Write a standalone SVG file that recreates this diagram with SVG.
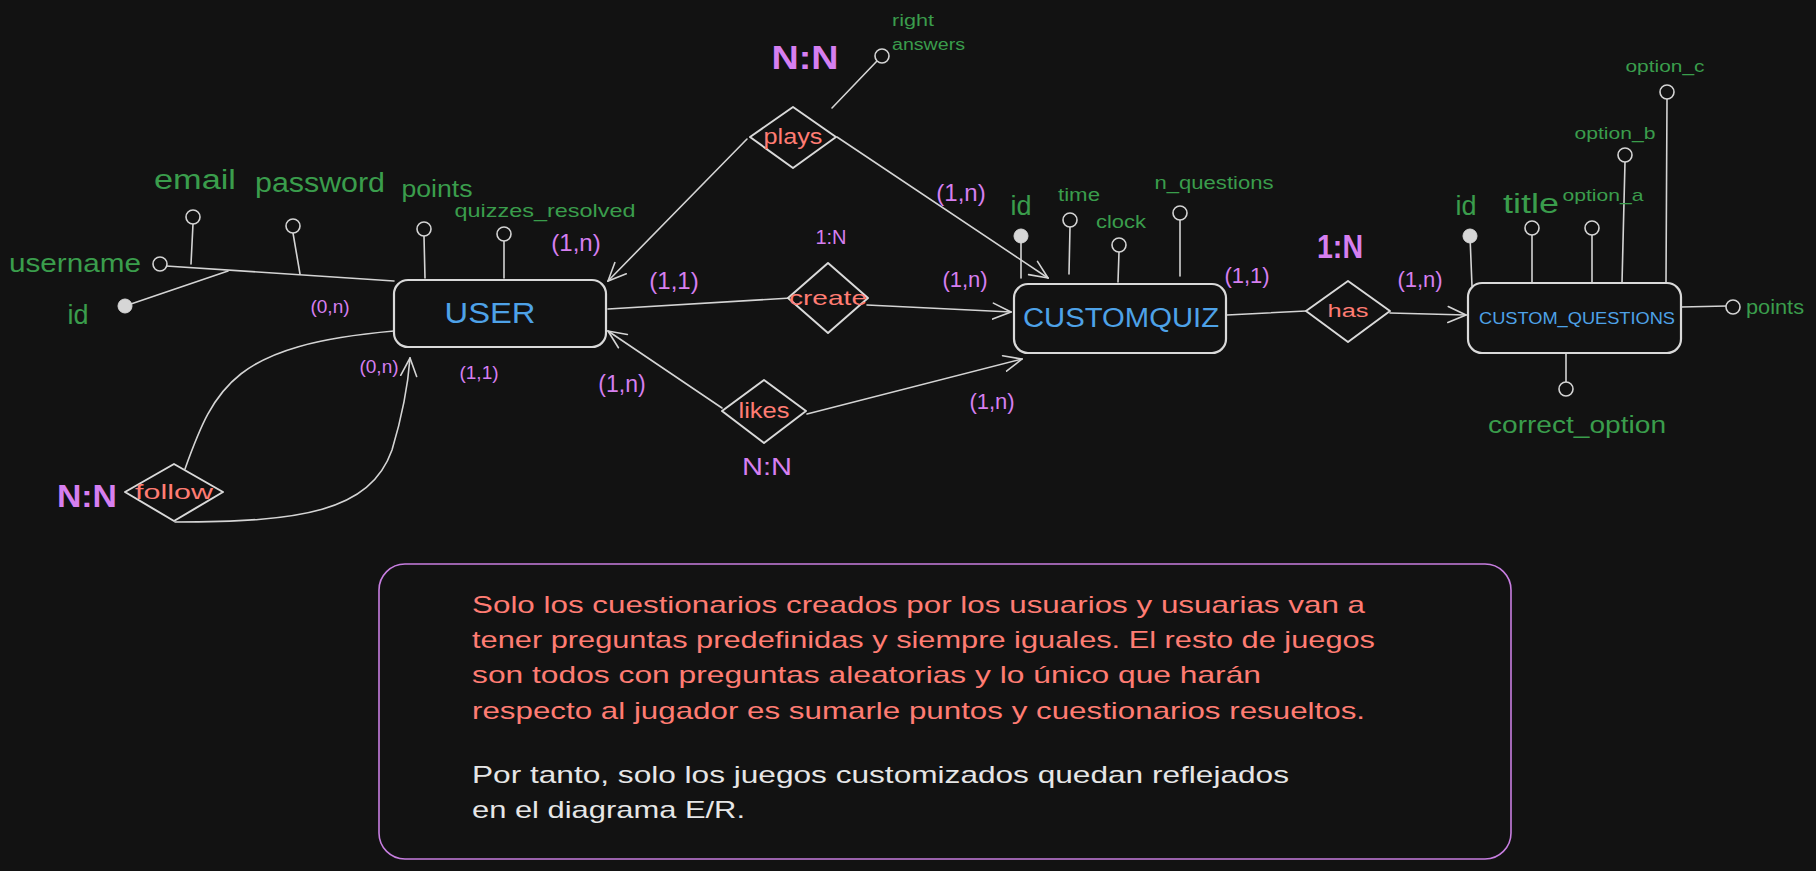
<svg xmlns="http://www.w3.org/2000/svg" width="1816" height="871" viewBox="0 0 1816 871">
<defs>
<style>
text{font-family:"Liberation Sans",Arial,sans-serif}
.ln{stroke:#d4d4d4;stroke-width:1.6;fill:none;stroke-linecap:round}
.bx{stroke:#d9d9d9;stroke-width:2.2;fill:#121212}
.dm{stroke:#d9d9d9;stroke-width:2;fill:#121212;stroke-linejoin:round}
.oc{stroke:#d4d4d4;stroke-width:1.6;fill:#121212}
.fc{fill:#d6d6d6;stroke:#d6d6d6}
.g{fill:#3a9d4c}
.p{fill:#d67ff0}
.r{fill:#ff7c73}
.b{fill:#4ea2e8}
.m{text-anchor:middle}
</style>
<marker id="arr" viewBox="0 0 20 20" refX="19" refY="10" markerWidth="20" markerHeight="20" markerUnits="userSpaceOnUse" orient="auto">
<path d="M1,2 L19,10 L1,18" fill="none" stroke="#d4d4d4" stroke-width="1.6" stroke-linecap="round"/>
</marker>
</defs>
<rect width="1816" height="871" fill="#121212"/>

<g id="connectors">
<path class="ln" d="M166,266 L394,281"/>
<path class="ln" d="M125,306 L228,271"/>
<path class="ln" d="M193,224 L191,264"/>
<path class="ln" d="M293,233 L300,274"/>
<path class="ln" d="M424,236 L425,278"/>
<path class="ln" d="M504,241 L504,278"/>
<path class="ln" d="M185,469 C215,385 235,345 394,331"/>
<path class="ln" d="M175,522 C300,522 370,512 392,450 C404,410 408,385 410,358" marker-end="url(#arr)"/>
<path class="ln" d="M747,139 L608,281" marker-end="url(#arr)"/>
<path class="ln" d="M837,137 L1048,278" marker-end="url(#arr)"/>
<path class="ln" d="M832,108 L877,61"/>
<path class="ln" d="M608,309 L791,298"/>
<path class="ln" d="M867,305 L1011,312" marker-end="url(#arr)"/>
<path class="ln" d="M722,408 L608,331" marker-end="url(#arr)"/>
<path class="ln" d="M807,414 L1022,359" marker-end="url(#arr)"/>
<path class="ln" d="M1227,315 L1306,311"/>
<path class="ln" d="M1390,313 L1466,315" marker-end="url(#arr)"/>
<path class="ln" d="M1021,236 L1021,278"/>
<path class="ln" d="M1070,227 L1069,274"/>
<path class="ln" d="M1119,252 L1118,282"/>
<path class="ln" d="M1180,220 L1180,276"/>
<path class="ln" d="M1470,236 L1472,286"/>
<path class="ln" d="M1532,235 L1532,283"/>
<path class="ln" d="M1592,235 L1592,283"/>
<path class="ln" d="M1625,162 L1622,283"/>
<path class="ln" d="M1667,99 L1666,283"/>
<path class="ln" d="M1681,307 L1727,306"/>
<path class="ln" d="M1566,353 L1566,382"/>
</g>

<g id="user">
<rect class="bx" x="394" y="280" width="212" height="67" rx="14"/>
<text class="b m" x="490" y="323" font-size="29" textLength="91" lengthAdjust="spacingAndGlyphs">USER</text>
</g>
<g id="customquiz">
<rect class="bx" x="1014" y="284" width="212" height="69" rx="14"/>
<text class="b m" x="1121" y="327" font-size="27" textLength="196" lengthAdjust="spacingAndGlyphs">CUSTOMQUIZ</text>
</g>
<g id="custom_questions">
<rect class="bx" x="1468" y="283" width="213" height="70" rx="14"/>
<text class="b m" x="1577" y="324" font-size="17" textLength="196" lengthAdjust="spacingAndGlyphs">CUSTOM_QUESTIONS</text>
</g>

<g id="follow">
<polygon class="dm" points="125,492 174,464 223,492 174,521"/>
<text class="r m" x="174" y="499" font-size="21" textLength="78" lengthAdjust="spacingAndGlyphs">follow</text>
</g>
<g id="plays">
<polygon class="dm" points="750,137 793,107 836,137 793,168"/>
<text class="r m" x="793" y="144" font-size="22" textLength="59" lengthAdjust="spacingAndGlyphs">plays</text>
</g>
<g id="create">
<polygon class="dm" points="788,298 828,263 868,298 828,333"/>
<text class="r m" x="828" y="305" font-size="21" textLength="78" lengthAdjust="spacingAndGlyphs">create</text>
</g>
<g id="likes">
<polygon class="dm" points="722,411 764,380 806,411 764,443"/>
<text class="r m" x="764" y="418" font-size="22" textLength="51" lengthAdjust="spacingAndGlyphs">likes</text>
</g>
<g id="has">
<polygon class="dm" points="1306,311 1348,281 1390,311 1348,342"/>
<text class="r m" x="1348" y="317" font-size="18" textLength="41" lengthAdjust="spacingAndGlyphs">has</text>
</g>

<g id="user-attributes">
<circle class="oc" cx="193" cy="217" r="7"/>
<text class="g m" x="195" y="189" font-size="27" textLength="82" lengthAdjust="spacingAndGlyphs">email</text>
<circle class="oc" cx="293" cy="226" r="7"/>
<text class="g m" x="320" y="192" font-size="27" textLength="130" lengthAdjust="spacingAndGlyphs">password</text>
<circle class="oc" cx="424" cy="229" r="7"/>
<text class="g m" x="437" y="197" font-size="23" textLength="71" lengthAdjust="spacingAndGlyphs">points</text>
<circle class="oc" cx="504" cy="234" r="7"/>
<text class="g m" x="545" y="217" font-size="19" textLength="181" lengthAdjust="spacingAndGlyphs">quizzes_resolved</text>
<circle class="oc" cx="160" cy="264" r="7"/>
<text class="g m" x="75" y="272" font-size="25" textLength="132" lengthAdjust="spacingAndGlyphs">username</text>
<circle class="fc" cx="125" cy="306" r="7"/>
<text class="g m" x="78" y="324" font-size="27">id</text>
</g>

<g id="plays-attribute">
<circle class="oc" cx="882" cy="56" r="7"/>
<text class="g" x="892" y="26" font-size="16" textLength="42" lengthAdjust="spacingAndGlyphs">right</text>
<text class="g" x="892" y="50" font-size="16" textLength="73" lengthAdjust="spacingAndGlyphs">answers</text>
</g>

<g id="customquiz-attributes">
<circle class="fc" cx="1021" cy="236" r="7"/>
<text class="g m" x="1021" y="215" font-size="27">id</text>
<circle class="oc" cx="1070" cy="220" r="7"/>
<text class="g m" x="1079" y="201" font-size="18" textLength="42" lengthAdjust="spacingAndGlyphs">time</text>
<circle class="oc" cx="1119" cy="245" r="7"/>
<text class="g m" x="1121" y="228" font-size="18" textLength="50" lengthAdjust="spacingAndGlyphs">clock</text>
<circle class="oc" cx="1180" cy="213" r="7"/>
<text class="g m" x="1214" y="189" font-size="18" textLength="119" lengthAdjust="spacingAndGlyphs">n_questions</text>
</g>

<g id="custom_questions-attributes">
<circle class="fc" cx="1470" cy="236" r="7"/>
<text class="g m" x="1466" y="215" font-size="27">id</text>
<circle class="oc" cx="1532" cy="228" r="7"/>
<text class="g m" x="1531" y="213" font-size="27" textLength="56" lengthAdjust="spacingAndGlyphs">title</text>
<circle class="oc" cx="1592" cy="228" r="7"/>
<text class="g m" x="1603" y="201" font-size="17" textLength="81" lengthAdjust="spacingAndGlyphs">option_a</text>
<circle class="oc" cx="1625" cy="155" r="7"/>
<text class="g m" x="1615" y="139" font-size="17" textLength="81" lengthAdjust="spacingAndGlyphs">option_b</text>
<circle class="oc" cx="1667" cy="92" r="7"/>
<text class="g m" x="1665" y="72" font-size="17" textLength="79" lengthAdjust="spacingAndGlyphs">option_c</text>
<circle class="oc" cx="1733" cy="307" r="7"/>
<text class="g" x="1746" y="314" font-size="20" textLength="58" lengthAdjust="spacingAndGlyphs">points</text>
<circle class="oc" cx="1566" cy="389" r="7"/>
<text class="g m" x="1577" y="433" font-size="23" textLength="178" lengthAdjust="spacingAndGlyphs">correct_option</text>
</g>

<g id="cardinalities">
<text class="p m" x="576" y="251" font-size="24">(1,n)</text>
<text class="p m" x="674" y="289" font-size="24">(1,1)</text>
<text class="p m" x="330" y="313" font-size="19">(0,n)</text>
<text class="p m" x="379" y="373" font-size="19">(0,n)</text>
<text class="p m" x="479" y="379" font-size="19">(1,1)</text>
<text class="p m" x="622" y="392" font-size="23">(1,n)</text>
<text class="p m" x="87" y="507" font-size="31" font-weight="bold" textLength="60" lengthAdjust="spacingAndGlyphs">N:N</text>
<text class="p m" x="805" y="69" font-size="33" font-weight="bold" textLength="67" lengthAdjust="spacingAndGlyphs">N:N</text>
<text class="p m" x="831" y="244" font-size="20">1:N</text>
<text class="p m" x="767" y="475" font-size="23" textLength="50" lengthAdjust="spacingAndGlyphs">N:N</text>
<text class="p m" x="961" y="201" font-size="24">(1,n)</text>
<text class="p m" x="965" y="287" font-size="22">(1,n)</text>
<text class="p m" x="992" y="409" font-size="22">(1,n)</text>
<text class="p m" x="1247" y="283" font-size="22">(1,1)</text>
<text class="p m" x="1340" y="258" font-size="33" font-weight="bold" textLength="46" lengthAdjust="spacingAndGlyphs">1:N</text>
<text class="p m" x="1420" y="287" font-size="22">(1,n)</text>
</g>

<g id="note">
<rect x="379" y="564" width="1132" height="295" rx="26" fill="#121212" stroke="#c77ee0" stroke-width="1.6"/>
<text x="472" y="613" font-size="24" fill="#ff7c73" textLength="893" lengthAdjust="spacingAndGlyphs">Solo los cuestionarios creados por los usuarios y usuarias van a</text>
<text x="472" y="648" font-size="24" fill="#ff7c73" textLength="903" lengthAdjust="spacingAndGlyphs">tener preguntas predefinidas y siempre iguales. El resto de juegos</text>
<text x="472" y="683" font-size="24" fill="#ff7c73" textLength="789" lengthAdjust="spacingAndGlyphs">son todos con preguntas aleatorias y lo único que harán</text>
<text x="472" y="719" font-size="24" fill="#ff7c73" textLength="893" lengthAdjust="spacingAndGlyphs">respecto al jugador es sumarle puntos y cuestionarios resueltos.</text>
<text x="472" y="783" font-size="24" fill="#e6e6e6" textLength="817" lengthAdjust="spacingAndGlyphs">Por tanto, solo los juegos customizados quedan reflejados</text>
<text x="472" y="818" font-size="24" fill="#e6e6e6" textLength="273" lengthAdjust="spacingAndGlyphs">en el diagrama E/R.</text>
</g>
</svg>
